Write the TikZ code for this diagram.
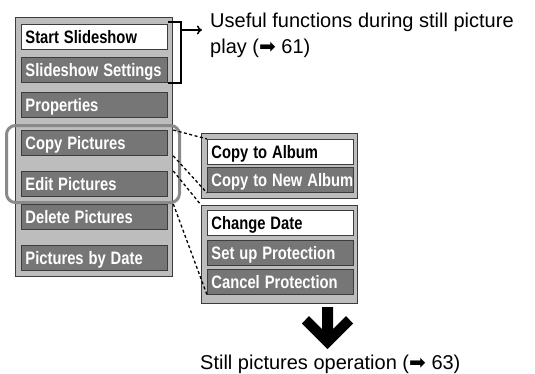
\documentclass[tikz,border=0pt]{standalone}
\usepackage{fontspec}
\usepackage{graphicx}
\setmainfont{Liberation Sans}
\newfontfamily\symfont{DejaVu Sans}
\newcommand\mitem[1]{\scalebox{0.82}[1]{#1}}
\usetikzlibrary{calc,arrows.meta}
\definecolor{panelgray}{HTML}{BDBDBD}
\definecolor{itemgray}{HTML}{767676}
\definecolor{edgegray}{HTML}{3C3C3C}
\definecolor{hlgray}{HTML}{8A8A8A}
\begin{document}
\begin{tikzpicture}[x=1pt,y=-1pt,
  panel/.style={anchor=north west, draw=edgegray, fill=panelgray, line width=1.3pt, inner sep=0pt},
  item/.style={anchor=north west, draw=edgegray, line width=0.9pt, fill=itemgray, text=white,
    font=\bfseries\fontsize{18}{18}\selectfont, minimum height=25pt, text width=138pt,
    inner xsep=4pt, inner ysep=0pt, align=left, text height=13pt, text depth=0pt},
  selitem/.style={item, fill=white, text=black},
  hilite/.style={anchor=north west, draw=hlgray, line width=3pt, rounded corners=9pt, inner sep=0pt},
  dashline/.style={black, line width=1.3pt, dash pattern=on 3pt off 2.5pt},
  bracket/.style={black, line width=1.5pt},
  note/.style={font=\fontsize{20}{26}\selectfont, inner sep=0pt, align=left}]
\useasboundingbox (0,0) rectangle (535,373);
% left menu
\node[panel, minimum width=157pt, minimum height=259pt] (panelL) at (15,17) {};
\node[hilite, minimum width=173pt, minimum height=77pt] (hl) at (5,124) {};
\node[selitem] (start) at (21,24) {\mitem{Start Slideshow}};
\node[item] (sset) at (21,57) {\mitem{Slideshow Settings}};
\node[item] (prop) at (21,92) {\mitem{Properties}};
\node[item] (copy) at (21,130) {\mitem{Copy Pictures}};
\node[item] (edit) at (21,171) {\mitem{Edit Pictures}};
\node[item] (del) at (21,204) {\mitem{Delete Pictures}};
\node[item] (pbd) at (21,245) {\mitem{Pictures by Date}};
% right sub menus
\node[panel, minimum width=156pt, minimum height=65pt] (panelR1) at (201,133) {};
\node[selitem] (cta) at (207,139) {\mitem{Copy to Album}};
\node[item] (ctna) at (207,167) {\mitem{Copy to New Album}};
\node[panel, minimum width=156pt, minimum height=98pt] (panelR2) at (201,205) {};
\node[selitem] (cd) at (207,210) {\mitem{Change Date}};
\node[item] (sup) at (207,240) {\mitem{Set up Protection}};
\node[item] (cp) at (207,269) {\mitem{Cancel Protection}};
% dashed connectors
\draw[dashline] (copy.north east -| panelL.east) -- (cta.north west);
\draw[dashline] (copy.south east -| panelL.east) -- (ctna.south west);
\draw[dashline] (edit.north east -| panelL.east) -- (panelR2.north west);
\draw[dashline] (del.north east -| panelL.east) -- (cp.south west);
% bracket and note
\coordinate (brtop) at ([xshift=13pt,yshift=2pt]start.north east);
\coordinate (arrowend) at (202,30);
\draw[bracket] ([yshift=2pt]start.north east) -- (brtop) |- (sset.south east);
\draw[bracket,-{To[length=5pt,width=9pt]}] (brtop |- arrowend) -- (arrowend);
\node[note, anchor=base west] (useful) at (210,53) {Useful functions during still picture\\play ({\symfont ➡} 61)};
% big arrow
\fill[black] (322,307) -- (333,307) -- (333,329) -- (346,316) -- (353,323.5) -- (327.5,349)
  -- (302,323.5) -- (309,316) -- (322,329) -- cycle;
\node[note, anchor=base west] (still) at (200,369) {Still pictures operation ({\symfont ➡} 63)};
\end{tikzpicture}
\end{document}
